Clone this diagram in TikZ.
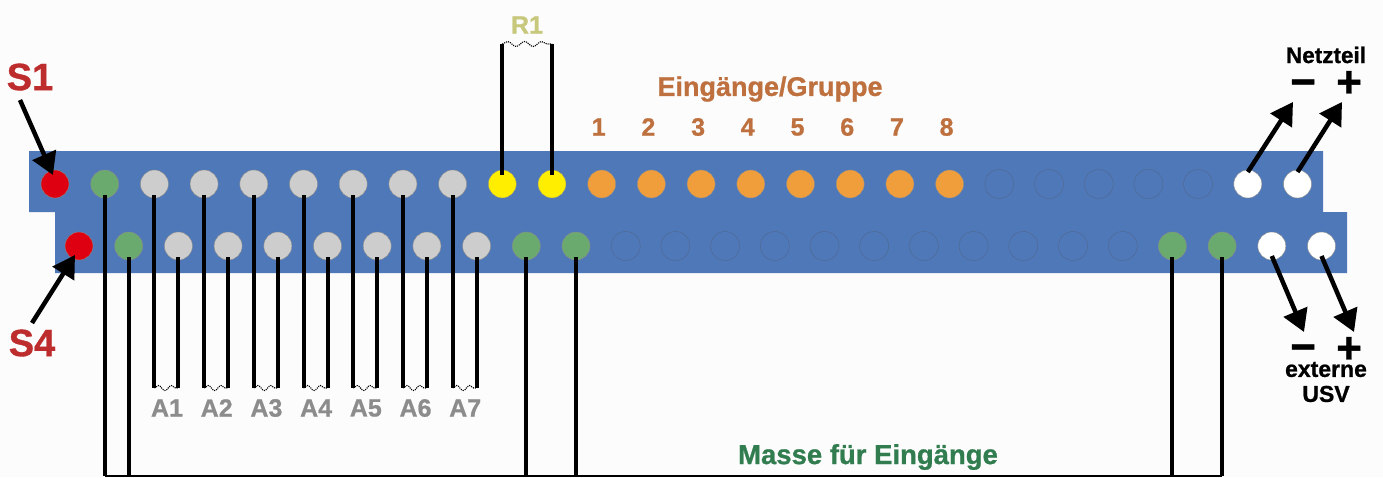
\documentclass[tikz,border=0pt]{standalone}
\usepackage{fontspec}
\setmainfont[BoldFeatures={FakeBold=0.9}]{Liberation Sans}
\usetikzlibrary{arrows.meta,decorations.pathmorphing}
\definecolor{barblue}{RGB}{79,120,184}
\definecolor{pinred}{RGB}{222,0,16}
\definecolor{pingreen}{RGB}{106,170,110}
\definecolor{pingray}{RGB}{205,205,205}
\definecolor{pinyellow}{RGB}{255,238,0}
\definecolor{pinorange}{RGB}{240,158,60}
\definecolor{txtred}{RGB}{190,45,45}
\definecolor{txtbrown}{RGB}{190,112,62}
\definecolor{txtgray}{RGB}{140,140,140}
\definecolor{txtyellow}{RGB}{200,200,125}
\definecolor{txtgreen}{RGB}{50,125,80}
\tikzset{
  hole/.style={circle,draw=black!45,line width=0.4pt,minimum size=28pt,inner sep=0pt},
  hred/.style={fill=pinred},
  hgreen/.style={fill=pingreen},
  hgray/.style={fill=pingray},
  hyellow/.style={fill=pinyellow},
  horange/.style={fill=pinorange},
  hwhite/.style={fill=white},
  hempty/.style={minimum size=29pt,line width=0.3pt,draw=black!40!barblue!85!white},
  wire/.style={line width=4pt,black},
  wavy/.style={line width=1.1pt,black,densely dotted,decorate,decoration={snake,segment length=13pt,amplitude=2.5pt}},
  pointer/.style={line width=4.5pt,-{Triangle[length=22pt,width=25pt]}},
  lab/.style={inner sep=0pt,font=\bfseries\fontsize{#1}{#1}\selectfont},
}
\begin{document}
\begin{tikzpicture}[x=1pt,y=-1pt]
\def \rowa{184};
\def \rowb{246};
\def \pitch{49.7};
\useasboundingbox (0,0) rectangle (1383,477);
\fill[white!99!black] (0,0) rectangle (1383,477);
\fill[barblue] (29,151) -- (1323,151) -- (1323,212) -- (1347,212) -- (1347,273) -- (55,273) -- (55,212) -- (29,212) -- cycle;
% pins
\foreach \from/\to/\kind in {0/0/hred,1/1/hgreen,2/8/hgray,9/10/hyellow,11/18/horange,19/23/hempty,24/25/hwhite}{
  \foreach \i in {\from,...,\to}{\node[hole,\kind] (t\i) at ({55+\pitch*\i},\rowa) {};}}
\foreach \from/\to/\kind in {0/0/hred,1/1/hgreen,2/8/hgray,9/10/hgreen,11/21/hempty,22/23/hgreen,24/25/hwhite}{
  \foreach \i in {\from,...,\to}{\node[hole,\kind] (b\i) at ({79+\pitch*\i},\rowb) {};}}
\coordinate (base) at (0,476);
\coordinate (alink) at (0,388);
\coordinate (rlink) at (0,44);
% masse
\draw[line width=1.5pt] (t1 |- base) -- (b23 |- base);
\draw[wire] ([yshift=-11pt]t1.center) -- (t1 |- base);
\foreach \n in {b1,b9,b10,b22,b23}{\draw[wire] ([yshift=-11pt]\n.center) -- (\n |- base);}
% A1..A7
\foreach \i [evaluate=\i as \a using int(\i-1)] in {2,...,8}{
  \draw[wire] ([yshift=-11pt]t\i.center) -- (t\i |- alink);
  \draw[wire] ([yshift=-11pt]b\i.center) -- (b\i |- alink);
  \draw[wavy] (t\i |- alink) -- (b\i |- alink);
  \node[lab=25,txtgray] (a\i) at ({167+\pitch*(\i-2)},408) {A\a};
}
% R1
\draw[wire] ([yshift=9pt]t9.center) -- (t9 |- rlink);
\draw[wire] ([yshift=9pt]t10.center) -- (t10 |- rlink);
\draw[wavy,decoration={segment length=17pt,amplitude=2.5pt}] (t9 |- rlink) -- (t10 |- rlink);
\node[lab=25,txtyellow] (rone) at (527,25) {R1};
% labels
\node[lab=38,txtred] (sone) at (30,77) {S1};
\node[lab=38,txtred] (sfour) at (32,343) {S4};
\node[lab=27,txtbrown] (group) at (770,89) {Eingänge/Gruppe};
\foreach \i in {1,...,8}{\node[lab=25,txtbrown] (g\i) at ({55+\pitch*(\i+10)-3},127) {\i};}
\node[lab=27.5,txtgreen] (masse) at (868,457) {Masse für Eingänge};
\node[lab=22.5] (netz) at (1326,55) {Netzteil};
\node[lab=44] (nminus) at (1303,88) {−};
\node[lab=44] (nplus) at (1349,84) {+};
\node[lab=44] (uminus) at (1303,353) {−};
\node[lab=44] (uplus) at (1349,350) {+};
\node[lab=23,align=center] (usv) at (1326,382) {externe\\[2pt]USV};
% arrows
\coordinate (sonefrom) at (20,100);
\coordinate (sfourfrom) at (32,323);
\coordinate (nmto) at (1293,102);
\coordinate (npto) at (1342,102);
\coordinate (umto) at (1304,332);
\coordinate (upto) at (1354,332);
\draw[pointer] (sonefrom) -- ([xshift=-2pt,yshift=9pt]t0.center);
\draw[pointer] (sfourfrom) -- ([xshift=-4pt,yshift=-9pt]b0.center);
\draw[pointer] ([yshift=12pt]t24.center) -- (nmto);
\draw[pointer] ([yshift=12pt]t25.center) -- (npto);
\draw[pointer] ([yshift=-10pt]b24.center) -- (umto);
\draw[pointer] ([yshift=-10pt]b25.center) -- (upto);
\end{tikzpicture}
\end{document}
